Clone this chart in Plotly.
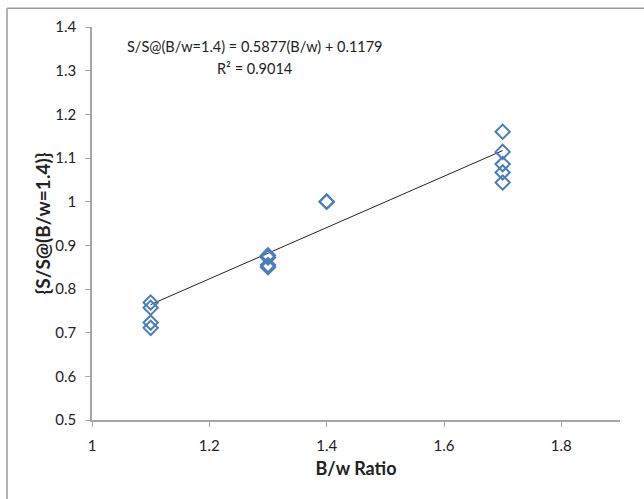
import plotly.graph_objects as go

bw_ratio = [1.1, 1.1, 1.1, 1.1, 1.3, 1.3, 1.3, 1.3, 1.4, 1.4, 1.7, 1.7, 1.7, 1.7, 1.7]
ss_ratio = [0.769, 0.757, 0.723, 0.711, 0.877, 0.872, 0.855, 0.850, 1.0, 1.0,
            1.160, 1.114, 1.086, 1.067, 1.044]
slope = 0.5877
intercept = 0.1179
trend_x = [min(bw_ratio), max(bw_ratio)]
x_ticks = [1, 1.2, 1.4, 1.6, 1.8]
y_ticks = [0.5, 0.6, 0.7, 0.8, 0.9, 1, 1.1, 1.2, 1.3, 1.4]

font_family = "Lato, 'Open Sans', sans-serif"
axis_col = "#a6a6a6"

fig = go.Figure()
fig.add_trace(go.Scatter(
    x=trend_x, y=[slope * v + intercept for v in trend_x], mode="lines",
    line=dict(color="#222222", width=1), showlegend=False, hoverinfo="skip"))
fig.add_trace(go.Scatter(
    x=bw_ratio, y=ss_ratio, mode="markers",
    marker=dict(symbol="diamond-open", size=11, color="#4a7ebb",
                line=dict(width=2, color="#4a7ebb")),
    showlegend=False))

fig.add_annotation(x=1.277, y=1.356, xref="x", yref="y", showarrow=False,
                   text="S/S@(B/w=1.4) = 0.5877(B/w) + 0.1179",
                   font=dict(size=14.5, color="#222", family=font_family))
fig.add_annotation(x=1.277, y=1.306, xref="x", yref="y", showarrow=False,
                   text="R² = 0.9014",
                   font=dict(size=14.5, color="#222", family=font_family))

# outer chart border (top and left visible)
fig.add_shape(type="line", xref="paper", yref="paper", x0=-0.161, x1=1.2,
              y0=1.048, y1=1.048, line=dict(color="#9a9a9a", width=1.5))
fig.add_shape(type="line", xref="paper", yref="paper", x0=-0.161, x1=-0.161,
              y0=-0.3, y1=1.048, line=dict(color="#9a9a9a", width=1.5))

fig.update_layout(
    width=644, height=499,
    margin=dict(l=92, r=24, t=27, b=79),
    paper_bgcolor="white", plot_bgcolor="white",
    font=dict(family=font_family, size=15, color="#222"),
    xaxis=dict(range=[1, 1.9], tickvals=x_ticks, ticktext=[str(v) for v in x_ticks],
               showgrid=False, zeroline=False, showline=True, linecolor=axis_col,
               linewidth=1.5, ticks="outside", ticklen=5, tickcolor=axis_col,
               tickfont=dict(size=15), ticklabelstandoff=6,
               title=dict(text="<b>B/w Ratio</b>", font=dict(size=18), standoff=10)),
    yaxis=dict(range=[0.5, 1.4], tickvals=y_ticks, ticktext=[str(v) for v in y_ticks],
               showgrid=False, zeroline=False, showline=True, linecolor=axis_col,
               linewidth=1.5, ticks="outside", ticklen=5, tickcolor=axis_col,
               tickfont=dict(size=15), ticklabelstandoff=6,
               title=dict(text="<b>{S/S@(B/w=1.4)}</b>", font=dict(size=19), standoff=0)),
)

fig.write_html("out.html")
